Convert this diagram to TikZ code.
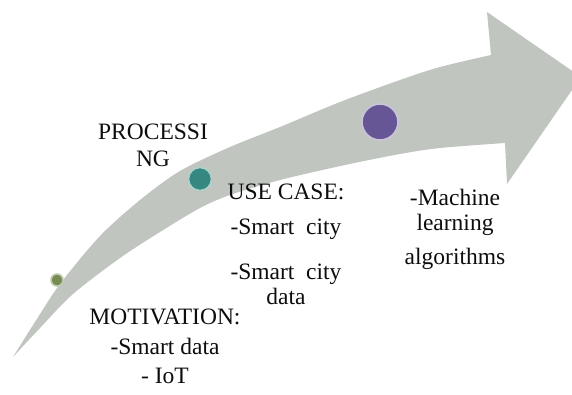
\documentclass[tikz,border=0pt]{standalone}
\usepackage{fontspec}
\setmainfont{Liberation Serif}
\definecolor{bandgray}{RGB}{192,197,192}
\definecolor{dotgreen}{RGB}{118,140,82}
\definecolor{dotteal}{RGB}{52,136,128}
\definecolor{dotviolet}{RGB}{102,86,150}
\begin{document}
\begin{tikzpicture}[x=1pt,y=-1pt,
  every node/.style={font=\fontsize{23.5}{25}\selectfont,text=black!95,inner sep=0pt},
  dot/.style={circle,minimum size=#1,line width=1.6pt},
  step text/.style={anchor=north,align=center}]
\useasboundingbox (0,0) rectangle (572,394);
% curved band with the arrow head
\fill[bandgray] plot[smooth] coordinates {(13,357) (35,322) (60,284) (100,236) (140,200) (180,171) (230,147) (280,127) (340,102) (400,80) (440,67) (491,55)}
  -- (487,12) -- (581,77) -- (507,184) -- (505,143)
  -- plot[smooth] coordinates {(505,143) (440,148) (400,154) (345,165) (280,180) (230,195) (200,208) (160,232) (120,258) (73,294) (40,328) (13,357)} -- cycle;
% milestones on the band
\node[dot=12pt,fill=dotgreen,draw=dotgreen!45!white] (dotmotiv) at (57,280) {};
\node[dot=23pt,fill=dotteal,draw=dotteal!40!white] (dotuse) at (200,179) {};
\node[dot=36pt,fill=dotviolet,draw=dotviolet!35!white] (dotml) at (380,122) {};
% labels
\node[step text] (proc) at (153,124) {PROCESSI\\[2pt]NG};
\node[step text] (usecase) at (286,184) {USE CASE:\\[10pt]-Smart\hspace{.5em}city\\[20pt]-Smart\hspace{.5em}city\\data};
\node[step text] (ml) at (455,189) {-Machine\\learning\\[9pt]algorithms};
\node[step text] (motiv) at (165,309) {MOTIVATION:\\[5pt]-Smart data\\[4pt]- IoT};
\end{tikzpicture}
\end{document}
